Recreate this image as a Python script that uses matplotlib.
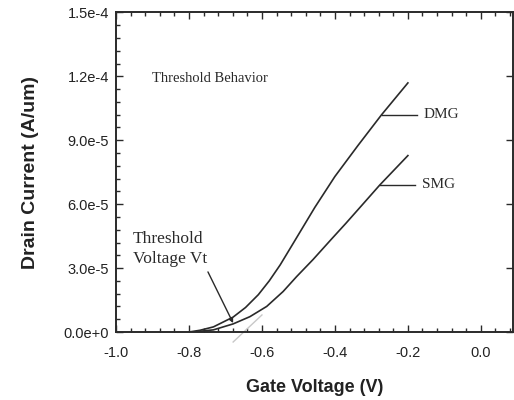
import matplotlib
matplotlib.use("Agg")
import matplotlib.pyplot as plt
from matplotlib.ticker import MultipleLocator, FormatStrFormatter

# gate voltage (V) and drain current (A/um)
vg_dmg = [-0.80, -0.77, -0.733, -0.679, -0.645, -0.61, -0.58, -0.55, -0.52,
          -0.455, -0.40, -0.337, -0.272, -0.2]
id_dmg = [0.0, 0.8e-6, 2.4e-6, 7.0e-6, 1.15e-5, 1.75e-5, 2.4e-5, 3.15e-5, 4.0e-5,
          5.85e-5, 7.3e-5, 8.75e-5, 1.02e-4, 1.169e-4]

vg_smg = [-0.79, -0.733, -0.679, -0.633, -0.587, -0.542, -0.505, -0.46,
          -0.41, -0.37, -0.326, -0.277, -0.2]
id_smg = [0.0, 1.0e-6, 3.8e-6, 7.2e-6, 1.2e-5, 1.9e-5, 2.6e-5, 3.4e-5,
          4.35e-5, 5.1e-5, 5.95e-5, 6.9e-5, 8.28e-5]

x_ticks = [-1.0, -0.8, -0.6, -0.4, -0.2, 0.0]
y_ticks = [0.0, 3e-5, 6e-5, 9e-5, 1.2e-4, 1.5e-4]
y_ticklabels = ["0.0e+0", "3.0e-5", "6.0e-5", "9.0e-5", "1.2e-4", "1.5e-4"]

# faint extrapolation line used to locate Vt
vt_line_x = [-0.679, -0.6]
vt_line_y = [-4.7e-6, 8.0e-6]

ink = "#2a2a2a"
serif = "Liberation Serif"
sans = "Liberation Sans"

fig = plt.figure(figsize=(5.14, 4.0), dpi=100)
ax = fig.add_axes([0.2257, 0.17, 0.998 - 0.2257, 0.969 - 0.17])

ax.plot(vg_dmg, id_dmg, color=ink, lw=1.2)
ax.plot(vg_smg, id_smg, color=ink, lw=1.2)
ax.plot(vt_line_x, vt_line_y, color="#c8c8c8", lw=1.0, clip_on=False)

ax.set_xlim(-1.0, 0.088)
ax.set_ylim(0, 1.5e-4)
ax.set_xticks(x_ticks)
ax.xaxis.set_major_formatter(FormatStrFormatter("%.1f"))
ax.xaxis.set_minor_locator(MultipleLocator(0.04))
ax.set_yticks(y_ticks)
ax.set_yticklabels(y_ticklabels)
ax.yaxis.set_minor_locator(MultipleLocator(6e-6))

ax.tick_params(which="both", direction="in", top=True, right=True, colors=ink,
               labelcolor="#222222")
ax.tick_params(which="major", length=5, width=1.0, labelsize=10.5)
ax.tick_params(axis="x", which="major", pad=10)
ax.tick_params(axis="y", which="major", pad=5)
ax.tick_params(which="minor", length=3, width=1.0)
ax.tick_params(axis="y", which="minor", right=False)
for lab in ax.get_xticklabels() + ax.get_yticklabels():
    lab.set_family(sans)
for s in ax.spines.values():
    s.set_color(ink)
    s.set_linewidth(1.4)

ax.set_xlabel("Gate Voltage (V)", fontsize=13, fontweight="bold", family=sans,
              color="#222222", labelpad=14)
ax.set_ylabel("Drain Current (A/um)", fontsize=14, fontweight="bold", family=sans,
              color="#222222", labelpad=18)

ax.text(-0.901, 1.19e-4, "Threshold Behavior", family=serif, fontsize=10.5,
        color=ink, va="center", ha="left")

# curve labels with leader lines
ax.plot([-0.272, -0.175], [1.02e-4, 1.02e-4], color=ink, lw=1.0)
ax.text(-0.156, 1.02e-4, "DMG", family=serif, fontsize=11, color=ink, va="center")
ax.plot([-0.277, -0.18], [6.9e-5, 6.9e-5], color=ink, lw=1.0)
ax.text(-0.161, 6.9e-5, "SMG", family=serif, fontsize=11, color=ink, va="center")

ax.text(-0.953, 3.06e-5, "Threshold\nVoltage Vt", family=serif, fontsize=12.5,
        color=ink, va="bottom", ha="left", linespacing=1.3)
ax.annotate("", xy=(-0.679, 4.2e-6), xytext=(-0.748, 2.82e-5),
            arrowprops=dict(arrowstyle="-|>", color=ink, lw=1.0,
                            mutation_scale=6, shrinkA=0, shrinkB=0))

fig.savefig("out.png", dpi=100)
